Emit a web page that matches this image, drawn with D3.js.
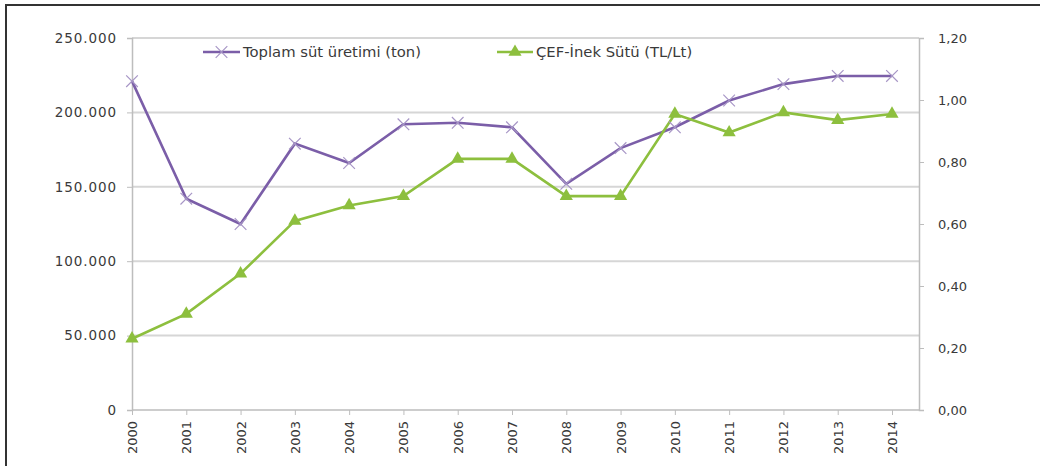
<!DOCTYPE html>
<html><head><meta charset="utf-8">
<script src="https://cdn.jsdelivr.net/npm/d3@7"></script>
<style>body{margin:0;background:#fff}svg{display:block}text{font-family:"DejaVu Sans","Liberation Sans",sans-serif}</style>
</head><body><svg id="c" width="1040" height="466"></svg>
<script>
const years = ["2000","2001","2002","2003","2004","2005","2006","2007","2008","2009","2010","2011","2012","2013","2014"];
const production = [221000,142000,125000,179000,166000,192000,193000,190000,152000,176000,190000,208000,219000,224500,224500];
const price = [0.23,0.31,0.44,0.61,0.66,0.69,0.81,0.81,0.69,0.69,0.955,0.895,0.96,0.935,0.955];
const leftTicks = [0,50000,100000,150000,200000,250000];
const rightTicks = [0,0.2,0.4,0.6,0.8,1.0,1.2];
const seriesNames = ["Toplam süt üretimi (ton)","ÇEF-İnek Sütü (TL/Lt)"];

const svg = d3.select("#c");
const L=132,R=919,T=38,B=410;
const purple="#7b5ea8", green="#8dbf3e", txt="#3a3a3a";

svg.append("rect").attr("x",6).attr("y",5).attr("width",1200).attr("height",600)
  .attr("fill","none").attr("stroke","#333").attr("stroke-width",2);

const x = d3.scalePoint().domain(years).range([L,892]);
const yL = d3.scaleLinear().domain([0,250000]).range([B,T]);
const yR = d3.scaleLinear().domain([0,1.2]).range([B,T]);

svg.append("g").selectAll("line").data(leftTicks.filter(d=>d>0)).join("line")
  .attr("x1",L).attr("x2",R).attr("y1",d=>yL(d)).attr("y2",d=>yL(d))
  .attr("stroke","#d6d6d6").attr("stroke-width",2);

const fmtR = d=> d3.format(".2f")(d).replace(".",",");

const gl = svg.append("g").attr("transform",`translate(${L},0)`)
  .call(d3.axisLeft(yL).tickValues(leftTicks).tickFormat(d=>d===0?"0":(d/1000)+".000").tickSize(5).tickPadding(10));
const gr = svg.append("g").attr("transform",`translate(${R},0)`)
  .call(d3.axisRight(yR).tickValues(rightTicks).tickFormat(fmtR).tickSize(5).tickPadding(14));
const gb = svg.append("g").attr("transform",`translate(0,${B})`)
  .call(d3.axisBottom(x).tickSize(5).tickPadding(6));
gb.select(".domain").attr("d",`M${L},0H${R}`);
gb.selectAll("text").attr("transform","rotate(-90)").attr("text-anchor","end")
  .attr("x",-11).attr("y",0).attr("dy","0.35em");
[gl,gr,gb].forEach(g=>{
  g.select(".domain").attr("stroke","#bdbdbd").attr("stroke-width",1.5);
  g.selectAll(".tick line").attr("stroke","#bdbdbd");
  g.selectAll("text").attr("fill",txt).attr("font-size",13);
});
gl.selectAll("text").attr("font-size",13.5).attr("letter-spacing",0.9);

const lineP = d3.line().x((d,i)=>x(years[i])).y(d=>yL(d));
const lineG = d3.line().x((d,i)=>x(years[i])).y(d=>yR(d));
svg.append("path").datum(production).attr("d",lineP).attr("fill","none").attr("stroke",purple).attr("stroke-width",2.6);
svg.append("path").datum(price).attr("d",lineG).attr("fill","none").attr("stroke",green).attr("stroke-width",2.6);

const cross = d3.symbol().type(d3.symbolTimes).size(90);
const tri = d3.symbol().type(d3.symbolTriangle).size(75);
svg.append("g").selectAll("path").data(production).join("path")
  .attr("transform",(d,i)=>`translate(${x(years[i])},${yL(d)})`).attr("d",cross)
  .attr("fill","none").attr("stroke","#a796c6").attr("stroke-width",1.2);
svg.append("g").selectAll("path").data(price).join("path")
  .attr("transform",(d,i)=>`translate(${x(years[i])},${yR(d)})`).attr("d",tri)
  .attr("fill",green);

const lg = svg.append("g");
const ly = 52;
lg.append("line").attr("x1",203).attr("x2",240).attr("y1",ly).attr("y2",ly).attr("stroke",purple).attr("stroke-width",2.6);
lg.append("path").attr("transform",`translate(221.5,${ly})`).attr("d",cross).attr("fill","none").attr("stroke","#a796c6").attr("stroke-width",1.2);
lg.append("text").attr("x",243).attr("y",ly).attr("dy","0.35em").attr("font-size",14.8).attr("fill",txt).text(seriesNames[0]);
lg.append("line").attr("x1",497).attr("x2",533).attr("y1",ly).attr("y2",ly).attr("stroke",green).attr("stroke-width",2.6);
lg.append("path").attr("transform",`translate(515,${ly})`).attr("d",tri).attr("fill",green);
lg.append("text").attr("x",536).attr("y",ly).attr("dy","0.35em").attr("font-size",14.8).attr("fill",txt).text(seriesNames[1]);
</script></body></html>
